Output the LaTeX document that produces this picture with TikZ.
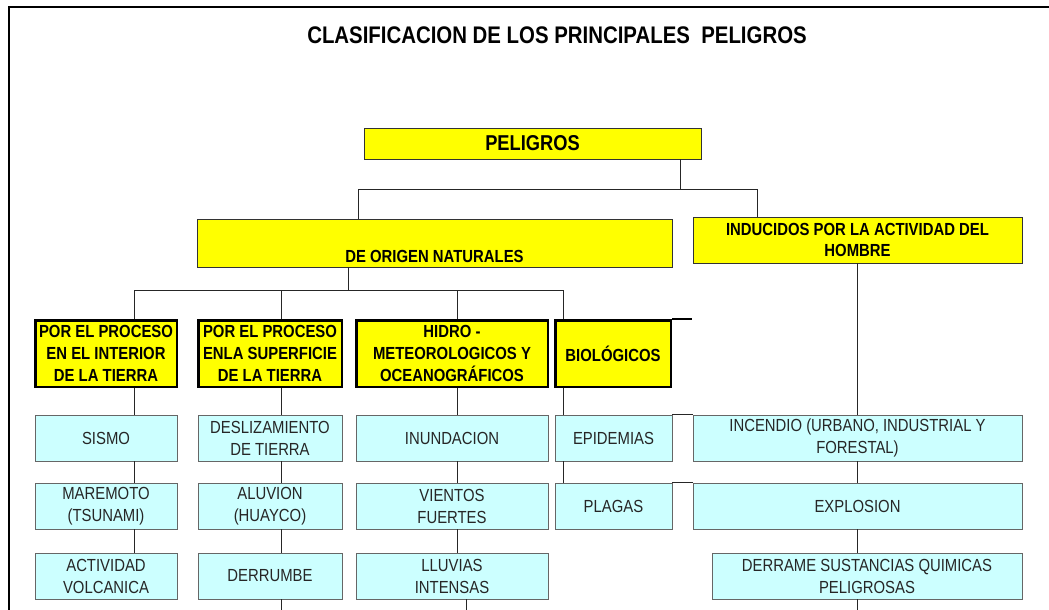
\documentclass[tikz,border=0pt]{standalone}
\usepackage{fontspec}
\setmainfont{Liberation Sans}
\newfontfamily\angosta[FakeStretch=0.85]{Liberation Sans}
\definecolor{amarillo}{HTML}{FFFF00}
\definecolor{celeste}{HTML}{CCFFFF}

\begin{document}
\begin{tikzpicture}[x=1pt,y=-1pt,
    linea/.style={black!85,line width=0.9pt},
    peligro/.style={draw=black!80,line width=0.9pt,fill=amarillo,inner sep=0pt,align=center,
        font=\angosta\bfseries\fontsize{17.5}{21}\selectfont},
    proceso/.style={draw=black,line width=2.5pt,fill=amarillo,inner sep=0pt,align=center,
        minimum height=66.5pt,font=\angosta\bfseries\fontsize{17.5}{22}\selectfont},
    tipo/.style={draw=black!60,line width=0.8pt,fill=celeste,text=black!85,inner sep=0pt,align=center,
        minimum height=46pt,font=\angosta\fontsize{17.5}{22}\selectfont}]
    \useasboundingbox (0,0) rectangle (1049,610);
    % marco
    \draw[line width=2.8pt] (9,610) -- (9,7) -- (1049,7);
    \node[font=\angosta\bfseries\fontsize{24}{28}\selectfont] (titulo) at (557,35) {CLASIFICACION DE LOS PRINCIPALES~ PELIGROS};

    % primer nivel
    \node[peligro,minimum width=337pt,minimum height=31pt,font=\angosta\bfseries\fontsize{21.5}{24}\selectfont] (peligros) at (532.5,143.5) {PELIGROS};
    \node[peligro,minimum width=475pt,minimum height=48pt,
        label={[peligro,draw=none,fill=none,anchor=base,yshift=5pt]south:DE ORIGEN NATURALES}] (naturales) at (434.5,243) {};
    \node[peligro,minimum width=329pt,minimum height=46pt] (hombre) at (857.5,240) {INDUCIDOS POR LA ACTIVIDAD DEL\\HOMBRE};

    % segundo nivel
    \node[proceso,minimum width=141.5pt] (interior) at (106,353.5) {POR EL PROCESO\\EN EL INTERIOR\\DE LA TIERRA};
    \node[proceso,minimum width=143.5pt] (superficie) at (270,353.5) {POR EL PROCESO\\ENLA SUPERFICIE\\DE LA TIERRA};
    \node[proceso,minimum width=191.5pt] (hidro) at (452,353.5) {HIDRO -\\METEOROLOGICOS Y\\OCEANOGRÁFICOS};
    \node[proceso,minimum width=115.5pt] (bio) at (613,353.5) {BIOLÓGICOS};

    % tipos de peligro
    \node[tipo,minimum width=142pt] (sismo) at (106,438) {SISMO};
    \node[tipo,minimum width=142pt] (maremoto) at (106,506) {MAREMOTO\\(TSUNAMI)};
    \node[tipo,minimum width=142pt] (volcanica) at (106,576) {ACTIVIDAD\\VOLCANICA};
    \node[tipo,minimum width=144pt] (deslizamiento) at (270,438) {DESLIZAMIENTO\\DE TIERRA};
    \node[tipo,minimum width=144pt] (aluvion) at (270,506) {ALUVION\\(HUAYCO)};
    \node[tipo,minimum width=144pt] (derrumbe) at (270,576) {DERRUMBE};
    \node[tipo,minimum width=192pt] (inundacion) at (452,438) {INUNDACION};
    \node[tipo,minimum width=192pt] (vientos) at (452,506) {VIENTOS\\FUERTES};
    \node[tipo,minimum width=192pt] (lluvias) at (452,576) {LLUVIAS\\INTENSAS};
    \node[tipo,minimum width=117pt] (epidemias) at (613.5,438) {EPIDEMIAS};
    \node[tipo,minimum width=117pt] (plagas) at (613.5,506) {PLAGAS};
    \node[tipo,minimum width=329pt] (incendio) at (857.5,438) {INCENDIO (URBANO, INDUSTRIAL Y\\FORESTAL)};
    \node[tipo,minimum width=329pt] (explosion) at (857.5,506) {EXPLOSION};
    \node[tipo,minimum width=310pt] (derrame) at (867,576) {DERRAME SUSTANCIAS QUIMICAS\\PELIGROSAS};

    % conectores
    \coordinate (p1) at (680,189);
    \coordinate (n1) at (358,189);
    \coordinate (h1) at (757,189);
    \draw[linea] (peligros.south -| p1) -- (p1);
    \draw[linea] (naturales.north -| n1) -- (n1) -- (h1) -- (hombre.north -| h1);

    \coordinate (q0) at (348,290);
    \coordinate (q1) at (134,290);
    \coordinate (q2) at (281,290);
    \coordinate (q3) at (457,290);
    \coordinate (q4) at (563,290);
    \coordinate (q5) at (857,290);
    \draw[linea] (naturales.south -| q0) -- (q0);
    \draw[linea] (q1) -- (q4);
    \foreach \c/\n in {q1/interior,q2/superficie,q3/hidro,q4/bio}
        \draw[linea] (\c) -- (\n.north -| \c);

    \foreach \a/\b/\c in {interior/sismo/q1,sismo/maremoto/q1,maremoto/volcanica/q1,
            superficie/deslizamiento/q2,deslizamiento/aluvion/q2,aluvion/derrumbe/q2,
            hidro/inundacion/q3,inundacion/vientos/q3,vientos/lluvias/q3,
            bio/epidemias/q4,epidemias/plagas/q4,
            hombre/incendio/q5,incendio/explosion/q5,explosion/derrame/q5}
        \draw[linea] (\a.south -| \c) -- (\b.north -| \c);

    \coordinate (f2) at (281,610);
    \coordinate (f3) at (466,610);
    \coordinate (f5) at (857,610);
    \draw[linea] (derrumbe.south -| f2) -- (f2);
    \draw[linea] (lluvias.south -| f3) -- (f3);
    \draw[linea] (derrame.south -| f5) -- (f5);

    \coordinate (b1) at (692,0);
    \draw[line width=2.5pt] (bio.north east) -- (b1 |- bio.north east);
    \draw[linea] (epidemias.north east) -- (incendio.north west);
    \draw[linea] (plagas.north east) -- (explosion.north west);
\end{tikzpicture}
\end{document}
